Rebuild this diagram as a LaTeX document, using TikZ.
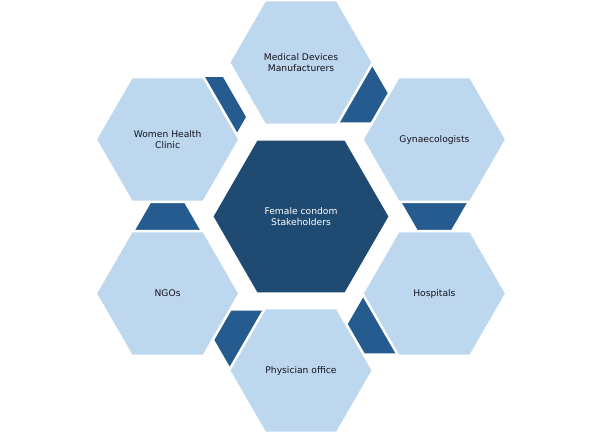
\documentclass[tikz,border=0pt]{standalone}
\usepackage{fontspec}
\setmainfont{DejaVu Sans}
\usetikzlibrary{shapes.geometric}
\definecolor{lightblue}{RGB}{189,215,238}
\definecolor{darkcore}{RGB}{31,74,113}
\definecolor{piececol}{RGB}{37,91,143}
\definecolor{labeltext}{RGB}{20,20,30}
\tikzset{
  hexbase/.style={regular polygon, regular polygon sides=6, inner sep=0pt, outer sep=0pt},
  sat/.style={hexbase, minimum size=144bp, fill=lightblue, draw=white, line width=2.5bp,
    font=\fontsize{9.2}{10.8}\selectfont, text=labeltext, align=center},
  core/.style={hexbase, minimum size=178bp, fill=darkcore, draw=white, line width=2.5bp,
    font=\fontsize{9.2}{10.8}\selectfont, text=white, align=center},
  piece/.style={hexbase, minimum size=66bp, fill=piececol, draw=none},
}
\begin{document}
\begin{tikzpicture}[x=1bp,y=-1bp]
  \useasboundingbox (0,0) rectangle (602,435);
  \fill[white] (0,0) rectangle (602,435);
  % connecting pieces (partly hidden behind the outer hexagons)
  \node[piece] (pMG) at (355,93.7) {};
  \node[piece] (pGH) at (434.4,201.9) {};
  \node[piece] (pHP) at (380.4,324.7) {};
  \node[piece] (pPN) at (247,339.3) {};
  \node[piece] (pNW) at (167.6,231.2) {};
  \node[piece, minimum size=92bp] (pWM) at (200,117) {};
  % outer hexagons
  \node[sat] (med)  at (301,62.5)    {Medical Devices\\Manufacturers};
  \node[sat] (gyn)  at (434.4,139.5) {Gynaecologists};
  \node[sat] (hos)  at (434.4,293.5) {Hospitals};
  \node[sat] (phy)  at (301,370.5)   {Physician office};
  \node[sat] (ngo)  at (167.6,293.5) {NGOs};
  \node[sat] (wom)  at (167.6,139.5) {Women Health\\Clinic};
  % centre
  \node[core] (ctr) at (301,216.5) {Female condom\\Stakeholders};
\end{tikzpicture}
\end{document}
